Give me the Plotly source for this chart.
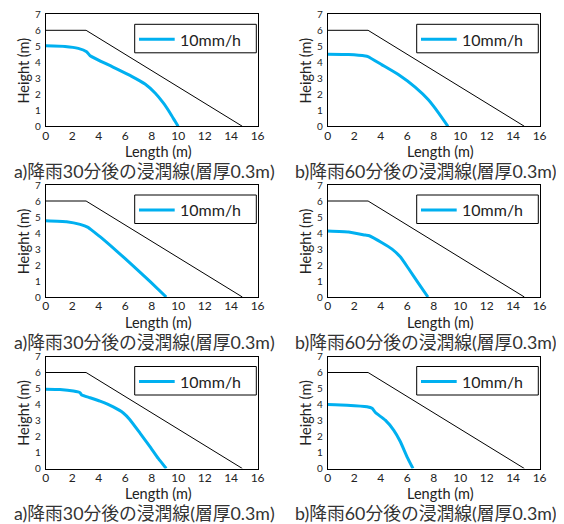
import plotly.graph_objects as go

# ---------------- data ----------------
slope_x = [0, 3.05, 14.85]
slope_y = [6, 6, 0]

p1_x = [0, 1.46, 2.46, 3.09, 3.35, 4.98, 6.49, 7.5, 8.26, 8.88, 9.39, 9.77, 10.0]
p1_y = [5.03, 4.99, 4.87, 4.66, 4.41, 3.74, 3.12, 2.64, 2.08, 1.46, 0.83, 0.31, 0]

p2_x = [0, 1.58, 2.84, 3.04, 4.1, 5.36, 6.6, 7.6, 8.38, 9.08]
p2_y = [4.51, 4.49, 4.40, 4.36, 3.84, 3.22, 2.45, 1.66, 0.83, 0]

p3_x = [0, 1.58, 2.6, 3.2, 3.47, 4.1, 5.36, 6.6, 7.87, 9.1]
p3_y = [4.77, 4.71, 4.54, 4.35, 4.18, 3.77, 2.87, 1.95, 0.98, 0]

p4_x = [0, 1.58, 2.84, 3.14, 4.1, 4.86, 5.48, 6.1, 6.87, 7.57]
p4_y = [4.12, 4.06, 3.87, 3.83, 3.39, 2.99, 2.51, 1.78, 0.84, 0]

p5_x = [0, 1.08, 2.09, 2.59, 2.72, 3.35, 4.1, 5.1, 5.86, 6.36, 7.12, 7.87, 8.5, 9.1]
p5_y = [4.95, 4.93, 4.84, 4.74, 4.59, 4.42, 4.21, 3.85, 3.47, 3.05, 2.21, 1.37, 0.63, 0]

p6_x = [0, 1.46, 2.97, 3.35, 3.6, 4.35, 4.98, 5.49, 5.99, 6.44]
p6_y = [4.0, 3.96, 3.86, 3.76, 3.5, 3.02, 2.4, 1.67, 0.73, 0]

panels_x = [p1_x, p2_x, p3_x, p4_x, p5_x, p6_x]
panels_y = [p1_y, p2_y, p3_y, p4_y, p5_y, p6_y]

series_name = "10mm/h"
captions = ["a)降雨30分後の浸潤線(層厚0.3m)", "b)降雨60分後の浸潤線(層厚0.3m)"]
x_title = "Length (m)"
y_title = "Height (m)"
x_ticks = [0, 2, 4, 6, 8, 10, 12, 14, 16]
y_ticks = [0, 1, 2, 3, 4, 5, 6, 7]

# ---------------- layout geometry (pixels, figure coords) ----------------
# the page body adds an 8px margin, so figure coords = target coords - 8
W, H = 556, 516
col_left = [37.7, 319.7]
plot_w = 211.9
row_top = [6.3, 177.0, 348.5]
plot_h = 112.0

FONT = "Lato, 'Noto Sans CJK JP', sans-serif"
BLUE = "#00B0F0"
TXT = "#222222"

fig = go.Figure()
layout = dict(
    width=W, height=H,
    margin=dict(l=0, r=0, t=0, b=0, pad=0, autoexpand=False),
    paper_bgcolor="white", plot_bgcolor="white",
    showlegend=False,
    font=dict(family=FONT, color=TXT),
)
annotations = []
shapes = []

for i in range(6):
    r, c = divmod(i, 2)
    n = i + 1
    xa = "x" if n == 1 else f"x{n}"
    ya = "y" if n == 1 else f"y{n}"
    x0 = col_left[c] / W
    x1 = (col_left[c] + plot_w) / W
    y1 = 1 - row_top[r] / H
    y0 = 1 - (row_top[r] + plot_h) / H

    fig.add_trace(go.Scatter(x=slope_x, y=slope_y, mode="lines",
                             line=dict(color="black", width=1),
                             showlegend=False, hoverinfo="skip",
                             xaxis=xa, yaxis=ya))
    fig.add_trace(go.Scatter(x=panels_x[i], y=panels_y[i], mode="lines",
                             line=dict(color=BLUE, width=3, shape="spline", smoothing=0.4),
                             name=series_name, showlegend=False,
                             xaxis=xa, yaxis=ya))

    xkey = "xaxis" if n == 1 else f"xaxis{n}"
    ykey = "yaxis" if n == 1 else f"yaxis{n}"
    layout[xkey] = dict(domain=[x0, x1], anchor=ya, range=[0, 16],
                        tickvals=x_ticks, ticks="", showgrid=False, zeroline=False,
                        showline=True, linecolor="black", linewidth=1, mirror=True,
                        automargin=False, ticklabelstandoff=-2,
                        ticklabeloverflow="allow",
                        tickfont=dict(size=12, family=FONT, color=TXT),
                        fixedrange=True)
    layout[ykey] = dict(domain=[y0, y1], anchor=xa, range=[0, 7],
                        tickvals=y_ticks, ticks="", showgrid=False, zeroline=False,
                        showline=True, linecolor="black", linewidth=1, mirror=True,
                        automargin=False, ticklabelstandoff=2,
                        ticklabeloverflow="allow",
                        tickfont=dict(size=10, family=FONT, color=TXT),
                        fixedrange=True)

    # legend box (drawn per panel)
    dxr = f"{xa} domain"
    dyr = f"{ya} domain"
    shapes.append(dict(type="rect", xref=dxr, yref=dyr,
                       x0=89 / plot_w, x1=210.6 / plot_w,
                       y0=1 - 38.5 / plot_h, y1=1 - 10 / plot_h,
                       line=dict(color="black", width=1), fillcolor="white",
                       layer="above"))
    shapes.append(dict(type="line", xref=dxr, yref=dyr,
                       x0=93.3 / plot_w, x1=129 / plot_w,
                       y0=1 - 25 / plot_h, y1=1 - 25 / plot_h,
                       line=dict(color=BLUE, width=3), layer="above"))
    annotations.append(dict(text=series_name, xref=dxr, yref=dyr,
                            x=132 / plot_w, y=1 - 25 / plot_h,
                            showarrow=False, xanchor="left", yanchor="middle",
                            font=dict(size=16, family=FONT, color=TXT)))

    cx = (col_left[c] + plot_w / 2) / W
    bottom_px = row_top[r] + plot_h
    annotations.append(dict(text=x_title, xref="paper", yref="paper",
                            x=cx + 7 / W, y=1 - (bottom_px + 25) / H,
                            showarrow=False, xanchor="center", yanchor="middle",
                            font=dict(size=14.5, family=FONT, color=TXT)))
    annotations.append(dict(text=y_title, xref="paper", yref="paper",
                            x=(col_left[c] - 22.4) / W,
                            y=1 - (row_top[r] + plot_h / 2) / H,
                            textangle=-90, showarrow=False,
                            xanchor="center", yanchor="middle",
                            font=dict(size=14.5, family=FONT, color=TXT)))
    annotations.append(dict(text=captions[c], xref="paper", yref="paper",
                            x=cx - 7.5 / W, y=1 - (bottom_px + 44.5) / H,
                            showarrow=False, xanchor="center", yanchor="middle",
                            font=dict(size=17.8, family=FONT, color="#333333")))

layout["annotations"] = annotations
layout["shapes"] = shapes
fig.update_layout(**layout)
fig.write_html("out.html")
